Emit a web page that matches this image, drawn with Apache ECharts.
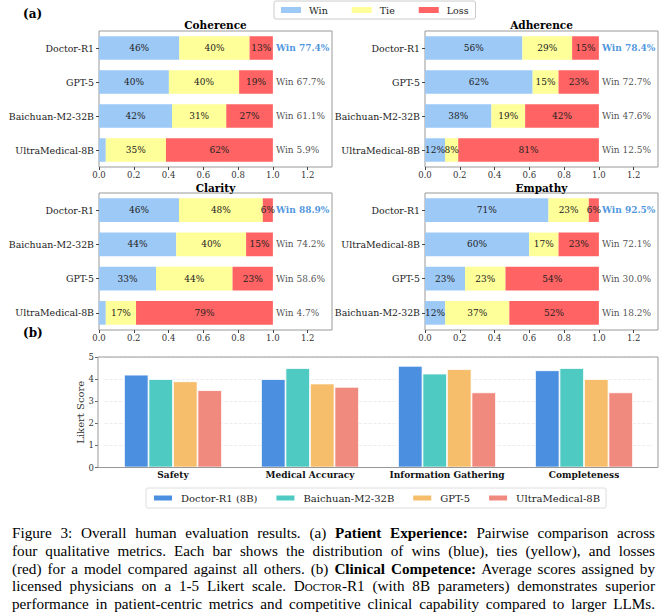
<!DOCTYPE html>
<html>
<head>
<meta charset="utf-8">
<script src="https://cdn.jsdelivr.net/npm/echarts@6/dist/echarts.min.js"></script>
<style>
  html, body { margin: 0; padding: 0; background: #fff; }
  #chart { position: absolute; left: 0; top: 0; width: 667px; height: 520px; }
  #caption { position: absolute; left: 12px; top: 524px; width: 643px;
    font-family: 'Liberation Serif', serif; font-size: 15.2px; line-height: 17.8px; color: #000; }
  #caption div { text-align: justify; text-align-last: justify; white-space: nowrap; }
  .sc { font-variant: small-caps; }
</style>
</head>
<body>
<div id="chart"></div>
<div id="caption">
  <div>Figure 3: Overall human evaluation results. (a) <b>Patient Experience:</b> Pairwise comparison across</div>
  <div>four qualitative metrics. Each bar shows the distribution of wins (blue), ties (yellow), and losses</div>
  <div>(red) for a model compared against all others. (b) <b>Clinical Competence:</b> Average scores assigned by</div>
  <div>licensed physicians on a 1-5 Likert scale. D<span class="sc">octor</span>-R1 (with 8B parameters) demonstrates superior</div>
  <div>performance in patient-centric metrics and competitive clinical capability compared to larger LLMs.</div>
</div>
<script>
// (a) pairwise comparison, percentages per panel (rows top to bottom)
var panelTitles = ['Coherence', 'Adherence', 'Clarity', 'Empathy'];
var panelModels = [
  ['Doctor-R1', 'GPT-5', 'Baichuan-M2-32B', 'UltraMedical-8B'],
  ['Doctor-R1', 'GPT-5', 'Baichuan-M2-32B', 'UltraMedical-8B'],
  ['Doctor-R1', 'Baichuan-M2-32B', 'GPT-5', 'UltraMedical-8B'],
  ['Doctor-R1', 'UltraMedical-8B', 'GPT-5', 'Baichuan-M2-32B']
];
var winPct  = [[46.2, 40.2, 42.0, 3.9], [56.0, 61.9, 38.2, 11.5], [46.0, 44.4, 32.8, 3.9], [71.0, 59.9, 23.0, 11.6]];
var tiePct  = [[40.4, 40.4, 31.2, 34.6], [28.6, 14.9, 19.4, 7.6], [48.2, 40.2, 44.0, 17.4], [23.2, 16.9, 23.3, 36.9]];
var lossPct = [[13.4, 19.4, 26.8, 61.5], [15.4, 23.2, 42.4, 80.9], [5.8, 15.4, 23.2, 78.7], [5.8, 23.2, 53.7, 51.5]];
var winRates = [[77.4, 67.7, 61.1, 5.9], [78.4, 72.7, 47.6, 12.5], [88.9, 74.2, 58.6, 4.7], [92.5, 72.1, 30.0, 18.2]];
var outcomeNames = ['Win', 'Tie', 'Loss'];

// (b) likert scores
var criteria = ['Safety', 'Medical Accuracy', 'Information Gathering', 'Completeness'];
var likertModels = ['Doctor-R1 (8B)', 'Baichuan-M2-32B', 'GPT-5', 'UltraMedical-8B'];
var likertDoctor   = [4.2, 4.0, 4.6, 4.4];
var likertBaichuan = [4.0, 4.5, 4.25, 4.5];
var likertGpt      = [3.9, 3.8, 4.45, 4.0];
var likertUltra    = [3.5, 3.65, 3.4, 3.4];

var serif = 'DejaVu Serif';
var outcomeColors = ['#9dc9f7', '#ffff99', '#ff6363'];
var likertColors = ['#4a8fe0', '#4ecac2', '#f6bd6b', '#f08a7e'];
var frame = '#999';

var chart = echarts.init(document.getElementById('chart'), null, { renderer: 'svg' });

var gridPos = [
  { left: 99, top: 31, width: 233, height: 136 },
  { left: 425, top: 31, width: 233, height: 136 },
  { left: 99, top: 193, width: 233, height: 137 },
  { left: 425, top: 193, width: 233, height: 137 }
];
var titleTops = [19, 19, 182, 182];

var grids = [], xAxes = [], yAxes = [], series = [], titles = [];

titles.push({ text: '(a)', left: 23, top: 8, padding: 0,
  textStyle: { fontFamily: serif, fontWeight: 'bold', fontSize: 12, color: '#000' } });
titles.push({ text: '(b)', left: 23, top: 327, padding: 0,
  textStyle: { fontFamily: serif, fontWeight: 'bold', fontSize: 12, color: '#000' } });

panelTitles.forEach(function(t, i) {
  var g = gridPos[i];
  grids.push({ left: g.left, top: g.top, width: g.width, height: g.height,
    show: true, borderColor: frame, borderWidth: 1, backgroundColor: 'transparent' });
  titles.push({ text: t, left: g.left + g.width / 2, top: titleTops[i], textAlign: 'center', padding: 0,
    textStyle: { fontFamily: serif, fontWeight: 'bold', fontSize: 10.5, color: '#000' } });
  xAxes.push({
    gridIndex: i, type: 'value', min: 0, max: 134, interval: 20,
    axisLine: { show: false },
    axisTick: { show: true, length: 3, lineStyle: { color: '#444' } },
    splitLine: { show: false },
    axisLabel: { fontFamily: serif, fontSize: 8.5, color: '#333', margin: 3, showMaxLabel: false,
      formatter: function(v) { return (v / 100).toFixed(1); } }
  });
  yAxes.push({
    gridIndex: i, type: 'category', inverse: true, data: panelModels[i],
    axisLine: { show: false },
    axisTick: { show: true, length: 3, alignWithLabel: true, lineStyle: { color: '#444' } },
    axisLabel: { fontFamily: serif, fontSize: 9.4, color: '#222', margin: 5 }
  });
  [winPct[i], tiePct[i], lossPct[i]].forEach(function(vals, k) {
    series.push({
      name: outcomeNames[k], type: 'bar', stack: 'p' + i,
      xAxisIndex: i, yAxisIndex: i, barCategoryGap: '31%',
      itemStyle: { color: outcomeColors[k] },
      label: { show: true, position: 'inside', fontFamily: serif, fontSize: 9, color: '#222',
        formatter: function(p) { return p.value >= 5 ? Math.round(p.value) + '%' : ''; } },
      emphasis: { disabled: true },
      data: vals
    });
  });
  series.push({
    type: 'scatter', xAxisIndex: i, yAxisIndex: i, symbolSize: 0, silent: true,
    data: winRates[i].map(function(r, j) {
      return {
        value: [100, j],
        label: {
          show: true, position: 'right', distance: 3, fontFamily: serif, fontSize: 9,
          fontWeight: j === 0 ? 'bold' : 'normal', color: j === 0 ? '#1e7bd6' : '#222',
          formatter: 'Win ' + r.toFixed(1) + '%'
        }
      };
    })
  });
});

// (b) bar chart
grids.push({ left: 104.5, top: 357, width: 548, height: 110.5 });
xAxes.push({
  gridIndex: 4, type: 'category', data: criteria,
  axisLine: { show: false }, axisTick: { show: false },
  axisLabel: { interval: 0, fontFamily: serif, fontWeight: 'bold', fontSize: 9, color: '#111', margin: 3 }
});
yAxes.push({
  gridIndex: 4, type: 'value', min: 0, max: 5, interval: 1, offset: 6.5,
  name: 'Likert Score', nameLocation: 'middle', nameGap: 13, nameMoveOverlap: false,
  nameTextStyle: { fontFamily: serif, fontSize: 10, color: '#333' },
  axisLine: { show: false },
  axisTick: { show: true, length: 3, lineStyle: { color: '#666' } },
  axisLabel: { fontFamily: serif, fontSize: 8.5, color: '#333', margin: 4 },
  splitLine: { lineStyle: { color: '#e8e8e8', type: 'dashed', width: 0.8 } }
});
[likertDoctor, likertBaichuan, likertGpt, likertUltra].forEach(function(vals, k) {
  series.push({
    name: likertModels[k], type: 'bar', xAxisIndex: 4, yAxisIndex: 4,
    barWidth: 24.5, barGap: '0%',
    itemStyle: { color: likertColors[k], borderColor: '#fff', borderWidth: 0.8 },
    emphasis: { disabled: true },
    data: vals
  });
});

chart.setOption({
  animation: false,
  title: titles,
  grid: grids,
  xAxis: xAxes,
  yAxis: yAxes,
  graphic: [{
    type: 'rect', silent: true, z: 10,
    shape: { x: 98, y: 357, width: 560, height: 110.5 },
    style: { fill: 'none', stroke: frame, lineWidth: 1 }
  }],
  legend: [{
    data: outcomeNames, left: 274, top: 1, padding: [4, 7], itemGap: 24,
    icon: 'rect', itemWidth: 20, itemHeight: 6,
    borderColor: '#ccc', borderWidth: 1, borderRadius: 2, selectedMode: false,
    textStyle: { fontFamily: serif, fontSize: 9.5, color: '#222', padding: [0, 0, 0, 3] }
  }, {
    data: likertModels, left: 146, top: 488, padding: [5, 6], itemGap: 17,
    icon: 'rect', itemWidth: 20, itemHeight: 7,
    borderColor: '#ddd', borderWidth: 1, borderRadius: 2, selectedMode: false,
    textStyle: { fontFamily: serif, fontSize: 10, color: '#222', padding: [0, 0, 0, 3] }
  }],
  series: series
});
window.addEventListener('resize', function() { chart.resize(); });
</script>
</body>
</html>
